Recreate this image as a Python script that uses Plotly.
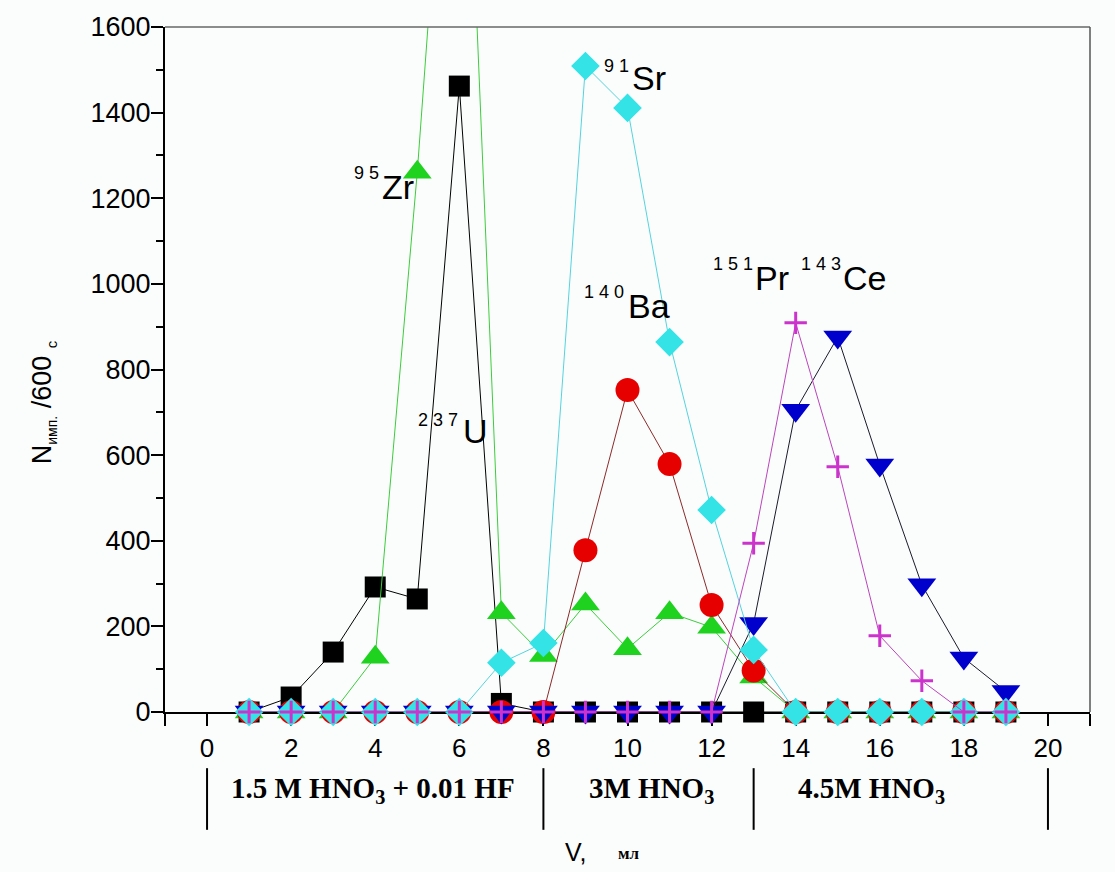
import plotly.graph_objects as go

# ---------------- data ----------------
V = [1, 2, 3, 4, 5, 6, 7, 8, 9, 10, 11, 12, 13, 14, 15, 16, 17, 18, 19]
U237 = [0, 35, 140, 292, 264, 1462, 20, 0, 0, 0, 0, 0, 0, 0, 0, 0, 0, 0, 0]
Zr95 = [0, 0, 0, 128, 1261, 2600, 232, 132, 252, 148, 232, 198, 82, 0, 0, 0, 0, 0, 0]
Ba140 = [0, 0, 0, 0, 0, 0, 0, 0, 378, 752, 579, 250, 97, 0, 0, 0, 0, 0, 0]
Ce143 = [0, 0, 0, 0, 0, 0, 0, 0, 0, 0, 0, 0, 207, 705, 876, 577, 297, 126, 48]
Sr91 = [0, 0, 0, 0, 0, 0, 115, 161, 1509, 1411, 864, 472, 145, 0, 0, 0, 0, 0, 0]
Pr151 = [0, 0, 0, 0, 0, 0, 0, 0, 0, 0, 0, 0, 394, 909, 573, 178, 73, 0, 0]

# isotope labels: (mass number, element)
LABEL_MASS = ["9 5", "2 3 7", "9 1", "1 4 0", "1 5 1", "1 4 3"]
LABEL_ELEM = ["Zr", "U", "Sr", "Ba", "Pr", "Ce"]
# label placement (data units): superscript left/center, symbol left/center
SUP_X = [3.45, 4.97, 9.40, 8.92, 11.99, 14.08]
SUP_Y = [1259, 682, 1509, 981, 1046, 1046]
SYM_X = [4.12, 6.05, 10.07, 9.97, 12.99, 15.08]
SYM_Y = [1226, 656, 1481, 948, 1014, 1014]

# eluent zones
ZONE_BOUNDS = [0, 8, 13, 20]
ZONE_TEXT = ["1.5 M HNO<sub>3</sub> + 0.01 HF", "3M HNO<sub>3</sub>", "4.5M HNO<sub>3</sub>"]
ZONE_X = [3.95, 10.56, 15.8]

XTICKS = [-1, 0, 2, 4, 6, 8, 10, 12, 14, 16, 18, 20, 21]
XTICKTEXT = ["", "0", "2", "4", "6", "8", "10", "12", "14", "16", "18", "20", ""]

fig = go.Figure()

def add(y, symbol, mcolor, size, lcolor, mlw=0):
    fig.add_trace(go.Scatter(
        x=V, y=y, mode="lines+markers", cliponaxis=False,
        line=dict(color=lcolor, width=1),
        marker=dict(symbol=symbol, color=mcolor, size=size,
                    line=dict(color=mcolor, width=mlw)),
        showlegend=False,
    ))

add(U237, "square", "#000000", 21, "#000000")
add(Zr95, "triangle-up", "#1fd21f", 25, "#3ccc3c")
add(Ba140, "circle", "#e60000", 24, "#8b2a2a")
add(Ce143, "triangle-down", "#0000cc", 25, "#1a1a2a")
add(Sr91, "diamond", "#33e3e6", 22, "#55d3dd")
add(Pr151, "cross-thin", "#cc33cc", 16, "#bb44bb", mlw=3)

ann = []
for m, e, sx, sy, ex, ey in zip(LABEL_MASS, LABEL_ELEM, SUP_X, SUP_Y, SYM_X, SYM_Y):
    ann.append(dict(x=sx, y=sy, xref="x", yref="y", text=m, showarrow=False,
                    xanchor="left", yanchor="middle",
                    font=dict(family="Liberation Sans", size=18, color="black")))
    ann.append(dict(x=ex, y=ey, xref="x", yref="y", text=e, showarrow=False,
                    xanchor="left", yanchor="middle",
                    font=dict(family="Liberation Sans", size=34, color="black")))

for t, zx in zip(ZONE_TEXT, ZONE_X):
    ann.append(dict(x=zx, y=-0.114, xref="x", yref="paper", text="<b>" + t + "</b>",
                    showarrow=False, xanchor="center", yanchor="middle",
                    font=dict(family="Liberation Serif", size=29, color="black")))

# axis titles
ann.append(dict(x=-0.131, y=0.452, xref="paper", yref="paper", textangle=-90,
                text="N<sub><span style='font-size:14px'>имп.</span></sub> /600 <sub><span style='font-size:15px'>c</span></sub>",
                showarrow=False, xanchor="center", yanchor="middle",
                font=dict(family="Liberation Sans", size=27, color="black")))
ann.append(dict(x=0.430, y=-0.204, xref="paper", yref="paper", text="V,",
                showarrow=False, xanchor="left", yanchor="middle",
                font=dict(family="Liberation Sans", size=25, color="black")))
ann.append(dict(x=0.488, y=-0.207, xref="paper", yref="paper", text="<b>мл</b>",
                showarrow=False, xanchor="left", yanchor="middle",
                font=dict(family="Liberation Serif", size=17, color="black")))

shapes = []
for b in ZONE_BOUNDS:
    shapes.append(dict(type="line", xref="x", yref="paper", x0=b, x1=b,
                       y0=-0.082, y1=-0.172, line=dict(color="black", width=2)))
shapes.append(dict(type="line", xref="paper", yref="paper", x0=0, x1=1, y0=1, y1=1,
                   line=dict(color="#666666", width=1.5)))
shapes.append(dict(type="line", xref="paper", yref="paper", x0=1, x1=1, y0=0, y1=1,
                   line=dict(color="#555555", width=1.5)))

fig.update_layout(
    width=1115, height=872,
    margin=dict(l=165, r=25, t=27, b=160),
    paper_bgcolor="#fbfdfd", plot_bgcolor="#fbfdfd",
    annotations=ann, shapes=shapes,
    xaxis=dict(range=[-1, 21], tickvals=XTICKS, ticktext=XTICKTEXT,
               ticks="outside", ticklen=12, tickwidth=2, tickcolor="black",
               showline=True, linecolor="black", linewidth=2,
               showgrid=False, zeroline=False, layer="below traces",
               tickfont=dict(family="Liberation Sans", size=26, color="black")),
    yaxis=dict(range=[0, 1600], dtick=200, tick0=0,
               ticks="outside", ticklen=12, tickwidth=2, tickcolor="black",
               minor=dict(dtick=100, ticks="outside", ticklen=7, tickwidth=2, tickcolor="black"),
               showline=True, linecolor="black", linewidth=2,
               showgrid=False, zeroline=False, layer="below traces",
               ticklabelstandoff=-5,
               tickfont=dict(family="Liberation Sans", size=27, color="black")),
)

fig.write_html("out.html", config={"displayModeBar": False},
               post_script="document.body.style.margin='0';")
